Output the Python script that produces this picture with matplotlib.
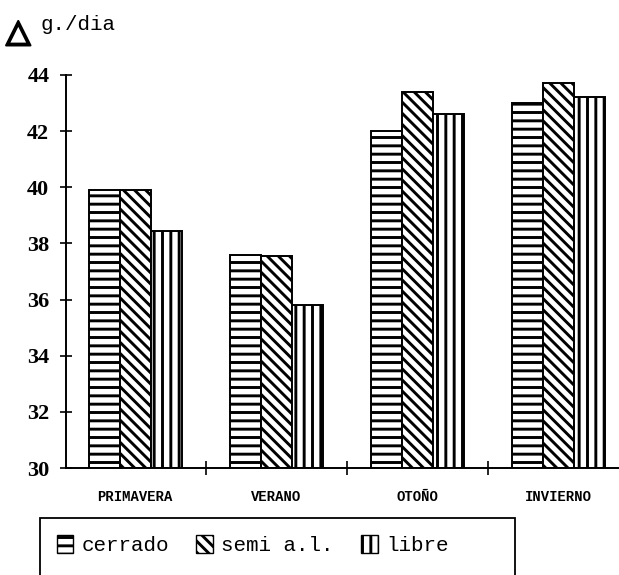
import numpy as np
import matplotlib
matplotlib.use("Agg")
import matplotlib.pyplot as plt
import matplotlib.patheffects as pe
from matplotlib.patches import Patch, Rectangle

# data
estaciones = ['PRIMAVERA', 'VERANO', 'OTOÑO', 'INVIERNO']
cerrado = [39.9, 37.6, 42.0, 43.0]
semi_al = [39.9, 37.55, 43.4, 43.7]
libre = [38.45, 35.8, 42.6, 43.2]
series_names = ['cerrado', 'semi a.l.', 'libre']
y_ticks = [30, 32, 34, 36, 38, 40, 42, 44]

plt.rcParams['hatch.linewidth'] = 2.1
plt.rcParams['hatch.color'] = 'black'

W, H = 619, 575
fig = plt.figure(figsize=(W / 100, H / 100), dpi=100)
ax = fig.add_axes([66 / W, (H - 468) / H, (W - 66) / W, (468 - 75) / H])

x = np.arange(len(estaciones))
bw = 0.22
hatches = ['--', '\\\\\\', '||']
for i, (vals, hatch) in enumerate(zip([cerrado, semi_al, libre], hatches)):
    ax.bar(x + (i - 1) * bw, np.array(vals) - 30, bottom=30, width=bw,
           color='white', edgecolor='black', linewidth=1.4, hatch=hatch)

ax.set_ylim(30, 44)
ax.set_xlim(-0.49, 3.43)
ax.set_yticks(y_ticks)
ax.set_yticklabels([str(v) for v in y_ticks],
                   fontfamily='Liberation Serif', fontweight='bold', fontsize=16)
ax.tick_params(axis='y', direction='inout', length=8, width=1.2, pad=8)

# category labels as minor ticks, boundaries as major ticks
ax.set_xticks(x[:-1] + 0.5)
ax.set_xticklabels([])
ax.tick_params(axis='x', which='major', direction='inout', length=10, width=1.2)
ax.set_xticks(x, minor=True)
ax.set_xticklabels(estaciones, minor=True, fontfamily='Liberation Mono',
                   fontweight='bold', fontsize=10)
ax.tick_params(axis='x', which='minor', length=0, pad=16)

for s in ['top', 'right']:
    ax.spines[s].set_visible(False)
for s in ['left', 'bottom']:
    ax.spines[s].set_linewidth(1.4)

# units label at the top
fig.text(6 / W, 1 - 33 / H, '△', fontsize=23, fontweight='bold',
         fontfamily='DejaVu Sans', va='center', ha='left',
         path_effects=[pe.withStroke(linewidth=1.5, foreground='black')])
fig.text(40 / W, 1 - 24 / H, 'g./dia', fontsize=15,
         fontfamily='Liberation Mono', va='center', ha='left')

# legend box running off the bottom of the page
fig.patches.append(Rectangle((40 / W, -0.05), (515 - 40) / W, (H - 518) / H + 0.05,
                             transform=fig.transFigure, fill=False,
                             edgecolor='black', linewidth=1.3))
handles = [Patch(facecolor='white', edgecolor='black', hatch=h, label=n)
           for h, n in zip(hatches, series_names)]
fig.legend(handles=handles, ncol=3, frameon=False, loc='center left',
           bbox_to_anchor=(38 / W, 1 - 545 / H),
           prop={'family': 'Liberation Mono', 'size': 15},
           handlelength=0.8, handleheight=1.0, handletextpad=0.4,
           columnspacing=1.3)

fig.savefig('out.png', dpi=100)
